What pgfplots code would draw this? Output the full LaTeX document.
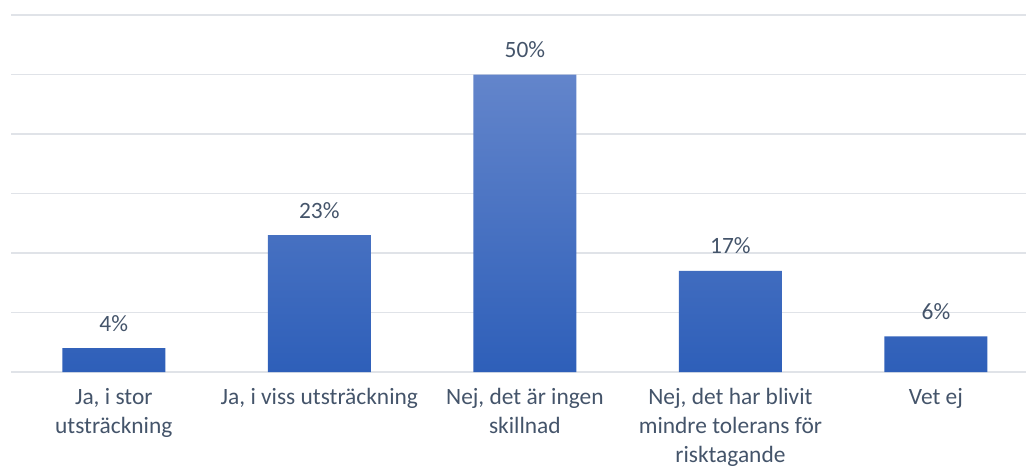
\documentclass[border=0pt]{standalone}
\usepackage{pgfplots}
\pgfplotsset{compat=1.18}
\usepackage{fontspec}
\setmainfont{Carlito}
\definecolor{txt}{HTML}{44546A}
\definecolor{gridc}{HTML}{E0E3E8}
\definecolor{bartop}{HTML}{6385CB}
\definecolor{barbot}{HTML}{2E5FB9}
\begin{document}
\begin{tikzpicture}
\begin{axis}[
  scale only axis,
  width=507.5pt, height=178.5pt,
  xmin=-0.5, xmax=4.438,
  ymin=0, ymax=60,
  axis line style={draw=none},
  ymajorgrids, xmajorgrids=false, grid style={draw=gridc, line width=0.8pt},
  ytick={0,10,...,60}, yticklabels={},
  xtick={0,1,2,3,4},
  xticklabels={{Ja, i stor\\utsträckning},{Ja, i viss utsträckning},{Nej, det är ingen\\skillnad},{Nej, det har blivit\\mindre tolerans för\\risktagande},{Vet ej}},
  major tick length=0pt,
  xticklabel style={align=center, anchor=north, inner sep=0pt, yshift=-8pt, text=txt, font=\fontsize{11.7}{14.4}\selectfont},
  /pgf/number format/assume math mode=true,
  ybar, bar width=51.5pt,
  nodes near coords={\pgfmathprintnumber{\pgfplotspointmeta}\%},
  every node near coord/.append style={anchor=base, inner sep=0pt, yshift=8.5pt, text=txt, font=\fontsize{11.7}{14.4}\selectfont},
  clip=false,
]
\addplot[draw=none, top color=bartop, bottom color=barbot] coordinates {(0,4) (1,23) (2,50) (3,17) (4,6)};
\end{axis}
\pgfresetboundingbox
\useasboundingbox (-5.5pt,-48pt) rectangle (507.5pt,186pt);
\end{tikzpicture}
\end{document}
